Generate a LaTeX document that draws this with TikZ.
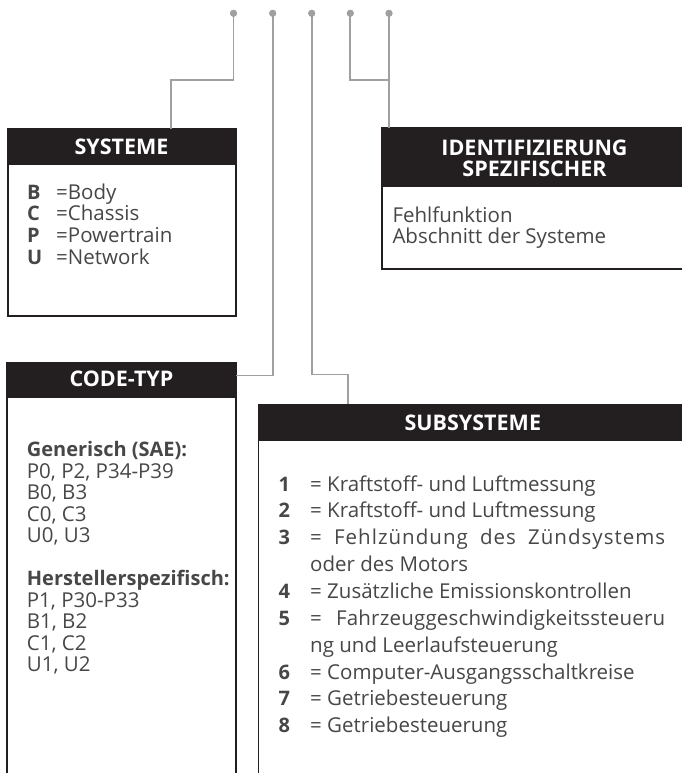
\documentclass[tikz,border=0pt]{standalone}
\usepackage{fontspec}
\setmainfont{Open Sans}
\definecolor{hdr}{HTML}{231F20}
\definecolor{txt}{HTML}{474747}
\definecolor{conn}{HTML}{A0A0A0}
\begin{document}
\begin{tikzpicture}[x=1pt,y=-1pt,
  bodybox/.style={draw=hdr, line width=1.6pt, anchor=north west, inner sep=0pt, outer sep=0pt, fill=white},
  hdrbox/.style={fill=hdr, draw=hdr, line width=1.6pt, anchor=north west, inner sep=0pt, outer sep=0pt},
  htext/.style={text=white, font=\fontsize{21.5}{23}\selectfont\bfseries, anchor=base, inner sep=0pt},
  btext/.style={text=txt, font=\fontsize{20.5}{22}\selectfont, anchor=base west, inner sep=0pt},
  bnum/.style={text=txt, font=\fontsize{20}{22}\selectfont\bfseries, anchor=base west, inner sep=0pt},
  conn/.style={draw=conn, line width=1.7pt},
  dot/.style={circle, fill=conn, inner sep=0pt, minimum size=7pt}]
\useasboundingbox (0,0) rectangle (681,773);

% ---------- boxes ----------
\node[bodybox, minimum width=228pt, minimum height=187.5pt] (sysB) at (8,128.5) {};
\node[hdrbox, minimum width=228pt, minimum height=35.5pt] (sysH) at (8,128.5) {};

\node[bodybox, minimum width=320pt, minimum height=141pt] (idB) at (381.7,128) {};
\node[hdrbox, minimum width=320pt, minimum height=57.7pt] (idH) at (381.7,128) {};

\node[bodybox, minimum width=228.7pt, minimum height=440pt] (codeB) at (7,362.7) {};
\node[hdrbox, minimum width=228.7pt, minimum height=34.3pt] (codeH) at (7,362.7) {};

\node[bodybox, minimum width=440pt, minimum height=400pt] (subB) at (258.3,404.3) {};
\node[hdrbox, minimum width=440pt, minimum height=35.7pt] (subH) at (258.3,404.3) {};

% ---------- connectors ----------
\node[dot] (d1) at (233.5,13.3) {};
\node[dot] (d2) at (272.7,13.3) {};
\node[dot] (d3) at (311.7,13.3) {};
\node[dot] (d4) at (350.3,13.3) {};
\node[dot] (d5) at (389,13.3) {};
\coordinate (sysIn) at (170.7,128.5);
\coordinate (codeIn) at (235.7,375.5);
\coordinate (subIn) at (347.7,404.3);
\coordinate (idIn) at (389,128);
\coordinate (junc) at (389,80);

\draw[conn] (d1.center) -- ++(0,66.7) -| (sysIn);
\draw[conn] (d2.center) |- (codeIn);
\draw[conn] (d3.center) -- ++(0,361.2) -| (subIn);
\draw[conn] (d4.center) -- ++(0,66.7) -- (junc);
\draw[conn] (d5.center) -- (idIn);
\node[dot] at (d1) {};
\node[dot] at (d2) {};
\node[dot] at (d3) {};
\node[dot] at (d4) {};
\node[dot] at (d5) {};

% ---------- SYSTEME ----------
\node[htext] (sysT) at (121.5,154) {SYSTEME};
\node[bnum] (sB) at (27,199) {B};
\node[btext] (sBt) at (56,199) {=Body};
\node[bnum] (sC) at (27,220.7) {C};
\node[btext] (sCt) at (56,220.7) {=Chassis};
\node[bnum] (sP) at (27,242.3) {P};
\node[btext] (sPt) at (56,242.3) {=Powertrain};
\node[bnum] (sU) at (27,264) {U};
\node[btext] (sUt) at (56,264) {=Network};

% ---------- IDENTIFIZIERUNG ----------
\node[htext] (idT1) at (534.5,155) {IDENTIFIZIERUNG};
\node[htext] (idT2) at (534.5,176) {SPEZIFISCHER};
\node[btext] (id1) at (392.3,222.3) {Fehlfunktion};
\node[btext] (id2) at (392.3,243.3) {Abschnitt der Systeme};

% ---------- CODE-TYP ----------
\node[htext] (codeT) at (121.5,386) {CODE-TYP};
\node[bnum] (c0) at (26.7,456.7) {Generisch (SAE):};
\node[btext] (c1) at (26.7,478.2) {P0, P2, P34-P39};
\node[btext] (c2) at (26.7,499.7) {B0, B3};
\node[btext] (c3) at (26.7,521.2) {C0, C3};
\node[btext] (c4) at (26.7,542.7) {U0, U3};
\node[bnum] (c5) at (26.7,585.7) {Herstellerspezifisch:};
\node[btext] (c6) at (26.7,607.2) {P1, P30-P33};
\node[btext] (c7) at (26.7,628.7) {B1, B2};
\node[btext] (c8) at (26.7,650.2) {C1, C2};
\node[btext] (c9) at (26.7,671.7) {U1, U2};

% ---------- SUBSYSTEME ----------
\node[htext] (subT) at (472.8,430) {SUBSYSTEME};
\node[bnum] (n1) at (278.3,491) {1};
\node[btext] (t1) at (310,491) {= Kraftstoff- und Luftmessung};
\node[bnum] (n2) at (278.3,517.9) {2};
\node[btext] (t2) at (310,517.9) {= Kraftstoff- und Luftmessung};
\node[bnum] (n3) at (278.3,544.7) {3};
\node[btext] (t3) at (310,544.7) {\makebox[355pt][s]{\addfontfeature{LetterSpace=5}= Fehlzündung des Zündsystems}};
\node[btext] (t3b) at (310,571.6) {oder des Motors};
\node[bnum] (n4) at (278.3,598.4) {4};
\node[btext] (t4) at (310,598.4) {= Zusätzliche Emissionskontrollen};
\node[bnum] (n5) at (278.3,625.3) {5};
\node[btext] (t5) at (310,625.3) {\makebox[355pt][s]{\addfontfeature{LetterSpace=1}= Fahrzeuggeschwindigkeitssteueru}};
\node[btext] (t5b) at (310,652.1) {ng und Leerlaufsteuerung};
\node[bnum] (n6) at (278.3,679) {6};
\node[btext] (t6) at (310,679) {= Computer-Ausgangsschaltkreise};
\node[bnum] (n7) at (278.3,705.8) {7};
\node[btext] (t7) at (310,705.8) {= Getriebesteuerung};
\node[bnum] (n8) at (278.3,732.7) {8};
\node[btext] (t8) at (310,732.7) {= Getriebesteuerung};
\end{tikzpicture}
\end{document}
